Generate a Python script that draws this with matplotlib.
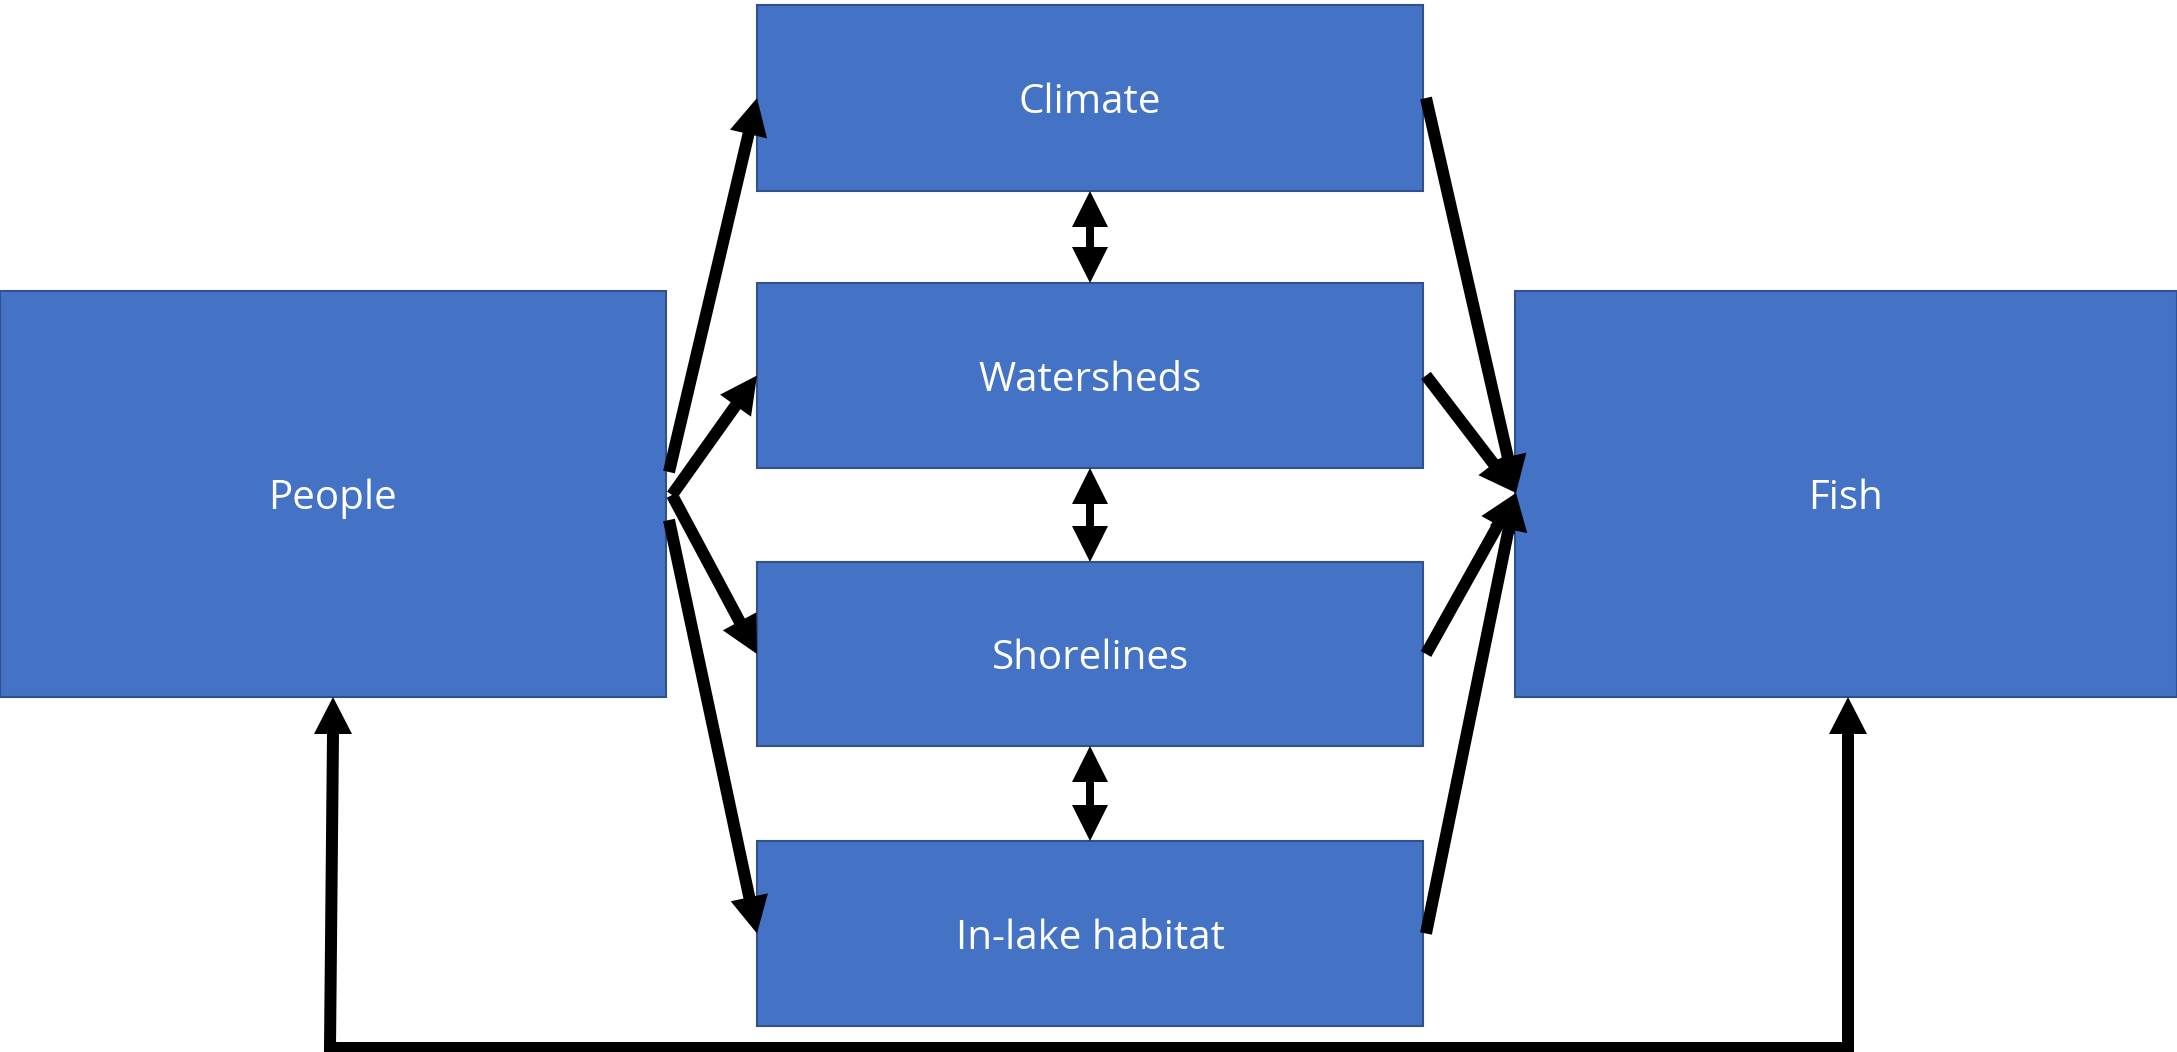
import matplotlib
matplotlib.use("Agg")
import matplotlib.pyplot as plt
from matplotlib.patches import Rectangle, Polygon
import numpy as np

# ---- diagram content ----
side_nodes = ["People", "Fish"]
middle_nodes = ["Climate", "Watersheds", "Shorelines", "In-lake habitat"]
# People -> each middle node, each middle node -> Fish
people_links = middle_nodes
fish_links = middle_nodes
# two-way links between stacked middle nodes
stack_links = [("Climate", "Watersheds"), ("Watersheds", "Shorelines"), ("Shorelines", "In-lake habitat")]
# feedback loop Fish <-> People along the bottom
loop_link = ("Fish", "People")

# ---- layout (pixels, y downward) ----
W, H = 2177, 1052
boxes = {
    "People": (0, 291, 666, 697),
    "Fish": (1515, 291, 2177, 697),
    "Climate": (757, 5, 1423, 191),
    "Watersheds": (757, 283, 1423, 468),
    "Shorelines": (757, 562, 1423, 746),
    "In-lake habitat": (757, 841, 1423, 1026),
}
people_starts = {"Climate": (669, 472), "Watersheds": (672, 495),
                 "Shorelines": (672, 495), "In-lake habitat": (669, 520)}
fish_tip = (1516, 493)
FILL = "#4472C4"
EDGE = "#2F528F"
LW_PX = 12
HEAD_L = 37
HEAD_W = 38
TEXT_DY = 5

fig = plt.figure(figsize=(W / 100, H / 100), dpi=100)
ax = fig.add_axes([0, 0, 1, 1])
ax.set_xlim(0, W)
ax.set_ylim(H, 0)
ax.axis("off")
lw_pt = LW_PX * 72 / 100


def draw_box(name):
    x0, y0, x1, y1 = boxes[name]
    ax.add_patch(Rectangle((x0, y0), x1 - x0, y1 - y0, facecolor=FILL,
                           edgecolor=EDGE, linewidth=1.5, zorder=1))
    ax.text((x0 + x1) / 2, (y0 + y1) / 2 + TEXT_DY, name, color="white", fontsize=29,
            family=["Open Sans", "DejaVu Sans"], ha="center", va="center", zorder=2)


def head(tip, direction):
    u = np.asarray(direction, float)
    u = u / np.hypot(*u)
    n = np.array([-u[1], u[0]])
    tip = np.asarray(tip, float)
    base = tip - u * HEAD_L
    ax.add_patch(Polygon([tip, base + n * HEAD_W / 2, base - n * HEAD_W / 2],
                         closed=True, facecolor="black", edgecolor="none", zorder=4))
    return base


def arrow(p0, p1):
    p0 = np.asarray(p0, float)
    p1 = np.asarray(p1, float)
    base = head(p1, p1 - p0)
    ax.plot([p0[0], base[0] + (p1 - p0)[0] * 0.02], [p0[1], base[1] + (p1 - p0)[1] * 0.02],
            color="black", lw=lw_pt, solid_capstyle="butt", zorder=3)


def block_double(xc, y0, y1, shaft=8, hw=36, hl=36):
    pts = [(xc, y0), (xc + hw / 2, y0 + hl), (xc + shaft / 2, y0 + hl),
           (xc + shaft / 2, y1 - hl), (xc + hw / 2, y1 - hl), (xc, y1),
           (xc - hw / 2, y1 - hl), (xc - shaft / 2, y1 - hl),
           (xc - shaft / 2, y0 + hl), (xc - hw / 2, y0 + hl)]
    ax.add_patch(Polygon(pts, closed=True, facecolor="black", edgecolor="none", zorder=4))


for name in side_nodes + middle_nodes:
    draw_box(name)

# People -> middle nodes
for name in people_links:
    x0, y0, x1, y1 = boxes[name]
    arrow(people_starts[name], (x0, (y0 + y1) / 2))

# middle nodes -> Fish
for name in fish_links:
    x0, y0, x1, y1 = boxes[name]
    arrow((x1 + 3, (y0 + y1) / 2), fish_tip)

# stacked two-way arrows
for a, b in stack_links:
    xa0, ya0, xa1, ya1 = boxes[a]
    xb0, yb0, xb1, yb1 = boxes[b]
    block_double((xa0 + xa1) / 2, ya1, yb0)

# bottom feedback loop
fx0, fy0, fx1, fy1 = boxes[loop_link[0]]
px0, py0, px1, py1 = boxes[loop_link[1]]
fx = (fx0 + fx1) / 2 + 2
px = (px0 + px1) / 2
ybot = 1048
head((px, py1), (0, -1))
head((fx, fy1), (0, -1))
ax.plot([px, px - 3, fx, fx], [py1 + HEAD_L - 1, ybot, ybot, fy1 + HEAD_L - 1],
        color="black", lw=lw_pt, solid_joinstyle="miter", solid_capstyle="projecting", zorder=3)

fig.savefig("out.png", dpi=100, facecolor="white")
